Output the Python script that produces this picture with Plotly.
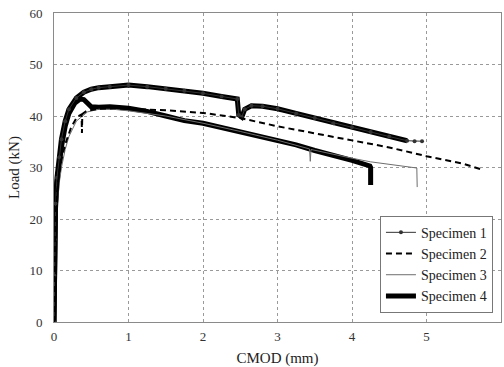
import plotly.graph_objects as go

# Specimen 1 (top band, dense data; sparse tail)
x1 = [0, 0.005, 0.01, 0.02, 0.04, 0.07, 0.1, 0.15, 0.2, 0.3, 0.4, 0.5, 0.6, 0.75, 1.0, 1.25, 1.5, 1.75, 2.0, 2.25,
      2.46, 2.48, 2.52, 2.56, 2.65, 2.8, 3.0, 3.25, 3.5, 3.75, 4.0, 4.25, 4.5, 4.74, 4.84, 4.94]
y1 = [0, 9, 16, 23, 28, 32, 35.5, 39, 41.3, 43.5, 44.6, 45.2, 45.5, 45.7, 46.0, 45.7, 45.3, 44.9, 44.4, 43.8,
      43.3, 40.2, 39.8, 41.3, 42.0, 41.9, 41.4, 40.5, 39.6, 38.6, 37.8, 36.9, 36.0, 35.2, 35.1, 35.1]
n_band1 = 34  # number of densely sampled points (band part)

# Specimen 2 (dashed)
x2 = [0, 0.005, 0.01, 0.02, 0.04, 0.07, 0.1, 0.15, 0.23, 0.31, 0.37, 0.375, 0.38, 0.44, 0.6, 0.8, 1.0, 1.5,
      2.0, 2.5, 3.0, 3.5, 4.0, 4.5, 5.0, 5.5, 5.72]
y2 = [0, 7, 13, 20, 25, 29, 31.5, 34.5, 37.8, 39.8, 40.3, 36.7, 40.4, 41.0, 41.4, 41.5, 41.4, 41.1,
      40.6, 39.6, 38.0, 36.6, 35.3, 33.9, 32.2, 30.7, 29.7]

# Specimen 3 (thin grey)
x3 = [0, 0.01, 0.02, 0.04, 0.07, 0.1, 0.15, 0.2, 0.3, 0.45, 0.6, 0.8, 1.0, 1.5, 2.0, 2.5, 3.0, 3.43, 3.44, 3.45,
      3.75, 4.0, 4.25, 4.5, 4.87, 4.875]
y3 = [0, 9, 16, 22, 27, 30, 33.5, 36, 39, 40.8, 41.3, 41.3, 41.0, 40.0, 38.6, 37.0, 35.3, 33.6, 31.2, 33.5,
      32.5, 31.8, 31.1, 30.6, 29.9, 26.2]

# Specimen 4 (thick)
x4 = [0, 0.005, 0.01, 0.02, 0.04, 0.07, 0.1, 0.15, 0.2, 0.28, 0.35, 0.4, 0.45, 0.5, 0.6, 0.75, 1.0, 1.25, 1.5,
      1.75, 2.0, 2.25, 2.5, 2.75, 3.0, 3.25, 3.5, 3.75, 4.0, 4.24, 4.25, 4.25]
y4 = [0, 8, 15, 22, 27, 31, 34, 38, 40.5, 42.5, 43.3, 43.2, 42.5, 41.8, 41.7, 41.8, 41.5, 40.9, 40.0,
      39.1, 38.6, 37.8, 36.9, 36.1, 35.3, 34.4, 33.3, 32.4, 31.4, 30.3, 30.0, 26.6]

x_ticks = [0, 1, 2, 3, 4, 5, 6]
y_ticks = [0, 10, 20, 30, 40, 50, 60]

FONT = "Times New Roman, Liberation Serif, serif"

fig = go.Figure()
fig.add_trace(go.Scatter(x=x4, y=y4, mode="lines", name="Specimen 4", legendrank=4,
                         line=dict(color="black", width=5)))
fig.add_trace(go.Scatter(x=x3, y=y3, mode="lines", name="Specimen 3", legendrank=3,
                         line=dict(color="#6e6e6e", width=1)))
fig.add_trace(go.Scatter(x=x1[:n_band1], y=y1[:n_band1], mode="lines", showlegend=False,
                         legendgroup="s1", line=dict(color="black", width=5)))
fig.add_trace(go.Scatter(x=x1, y=y1, mode="lines+markers", name="Specimen 1", legendrank=1,
                         legendgroup="s1", line=dict(color="#333", width=1),
                         marker=dict(color="#333", size=4, symbol="circle")))
fig.add_trace(go.Scatter(x=x2, y=y2, mode="lines", name="Specimen 2", legendrank=2,
                         line=dict(color="black", width=2, dash="6px,4px")))

axis_common = dict(showline=True, mirror=True, linecolor="#8a8a8a", linewidth=1,
                   showgrid=True, gridcolor="#9a9a9a", griddash="3px,3px", gridwidth=1,
                   zeroline=False, ticks="", tickfont=dict(family=FONT, size=13, color="#333"))

fig.update_xaxes(range=[0, 6], tickvals=x_ticks, ticklabelstandoff=2,
                 title=dict(text="CMOD (mm)", font=dict(family=FONT, size=15, color="#222"), standoff=9),
                 **axis_common)
fig.update_yaxes(range=[0, 60], tickvals=y_ticks, ticklabelstandoff=8,
                 title=dict(text="Load (kN)", font=dict(family=FONT, size=15, color="#222"), standoff=6),
                 **axis_common)

fig.update_layout(
    width=504, height=367,
    margin=dict(l=54, r=3, t=13, b=45),
    paper_bgcolor="white", plot_bgcolor="white",
    font=dict(family=FONT, color="#222"),
    legend=dict(x=0.982, y=0.03, xanchor="right", yanchor="bottom",
                bordercolor="#777", borderwidth=1, bgcolor="white",
                font=dict(family=FONT, size=14, color="#222"),
                itemwidth=30, tracegroupgap=0),
)

fig.write_html("out.html")
